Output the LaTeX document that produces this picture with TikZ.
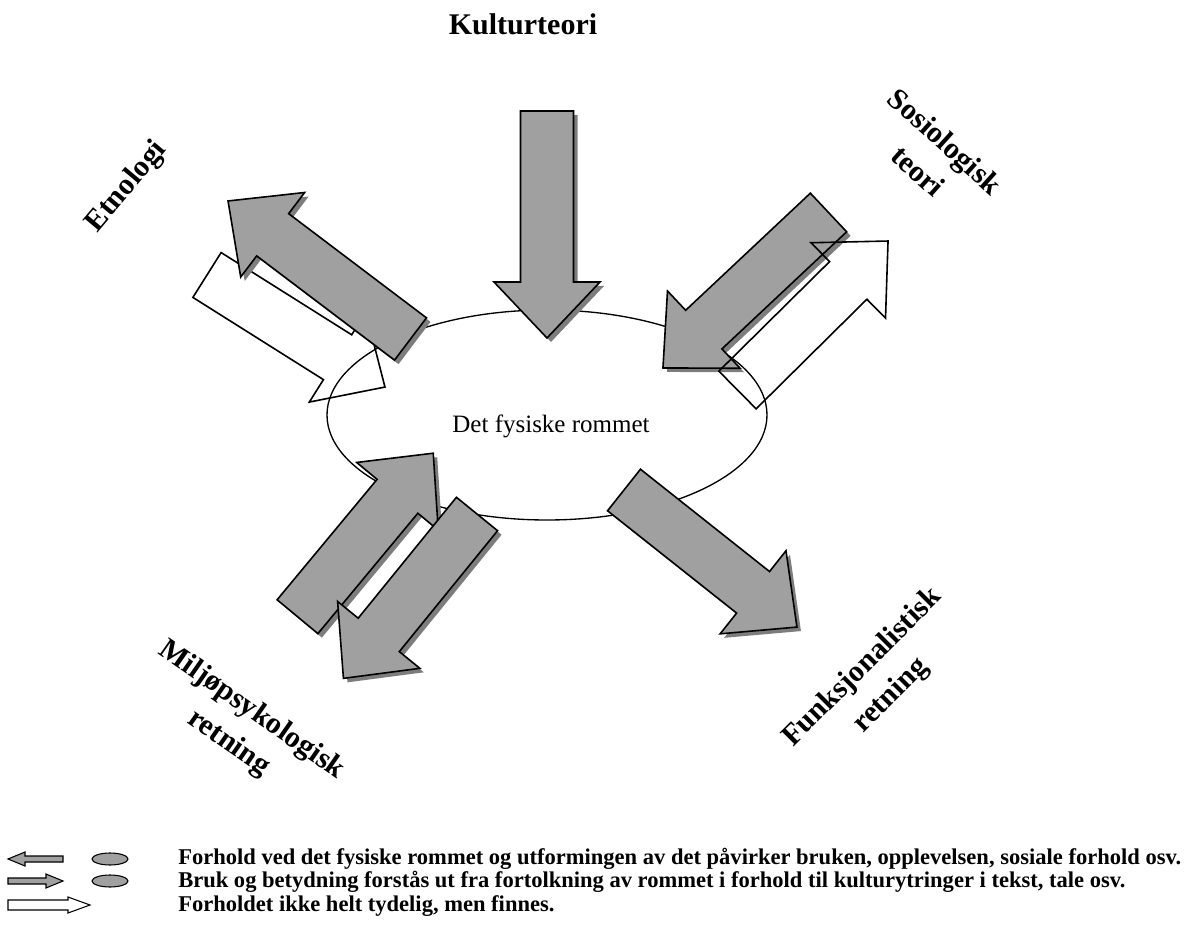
\documentclass[tikz,border=0pt]{standalone}
\usepackage{fontspec}
\setmainfont{Liberation Serif}

\definecolor{arrgray}{RGB}{160,160,160}
\definecolor{shadegray}{RGB}{125,125,125}

\tikzset{
  grayarrow/.style={draw, line width=1.2pt, fill=arrgray},
  arrshade/.style={fill=shadegray},
  whitearrow/.style={draw, line width=1.2pt},
  lbl/.style={font=\fontsize{22.5}{30}\selectfont\bfseries, align=center, inner sep=0.75pt},
  legtxt/.style={font=\fontsize{16.9}{19}\selectfont\bfseries, anchor=base west, inner sep=0pt}
}

\begin{document}
\begin{tikzpicture}[x=0.75pt,y=0.75pt,yscale=-1,xscale=1]
\useasboundingbox (0,0) rectangle (1196,930);

%Shape: Ellipse
\draw [line width=1pt] (327,415) .. controls (327,357) and (425.5,310) .. (547,310) .. controls (668.5,310) and (767,357) .. (767,415) .. controls (767,473) and (668.5,520) .. (547,520) .. controls (425.5,520) and (327,473) .. (327,415) -- cycle ;

%Shape: Right Arrow (white, Etnologi)
\draw [whitearrow, shift={(207,275)}, rotate=32.2] (0,-26.5) -- (154.3,-26.5) -- (154.3,-53) -- (210.3,0) -- (154.3,53) -- (154.3,26.5) -- (0,26.5) -- cycle ;
%Shape: Right Arrow (gray, Etnologi)
\fill [arrshade, shift={(414.5,343)}, rotate=217.1] (0,-26.5) -- (172.8,-26.5) -- (172.8,-53) -- (228.8,0) -- (172.8,53) -- (172.8,26.5) -- (0,26.5) -- cycle ;
\draw [grayarrow, shift={(410.5,339)}, rotate=217.1] (0,-26.5) -- (172.8,-26.5) -- (172.8,-53) -- (228.8,0) -- (172.8,53) -- (172.8,26.5) -- (0,26.5) -- cycle ;

%Shape: Right Arrow (gray, Sosiologisk teori)
\fill [arrshade, shift={(832.5,216.5)}, rotate=136.8] (0,-26.5) -- (171.1,-26.5) -- (171.1,-53) -- (227.1,0) -- (171.1,53) -- (171.1,26.5) -- (0,26.5) -- cycle ;
\draw [grayarrow, shift={(828.5,212.5)}, rotate=136.8] (0,-26.5) -- (171.1,-26.5) -- (171.1,-53) -- (227.1,0) -- (171.1,53) -- (171.1,26.5) -- (0,26.5) -- cycle ;
%Shape: Right Arrow (white, Sosiologisk teori)
\draw [whitearrow, shift={(737.5,390)}, rotate=-44.7] (0,-26.5) -- (155.8,-26.5) -- (155.8,-53) -- (211.8,0) -- (155.8,53) -- (155.8,26.5) -- (0,26.5) -- cycle ;

%Shape: Down Arrow (Kulturteori)
\fill [arrshade, shift={(551,115)}, rotate=90] (0,-26.5) -- (171,-26.5) -- (171,-53) -- (227,0) -- (171,53) -- (171,26.5) -- (0,26.5) -- cycle ;
\draw [grayarrow, shift={(547,111)}, rotate=90] (0,-26.5) -- (171,-26.5) -- (171,-53) -- (227,0) -- (171,53) -- (171,26.5) -- (0,26.5) -- cycle ;

%Shape: Right Arrow (Funksjonalistisk retning)
\fill [arrshade, shift={(628,494)}, rotate=38.4] (0,-26.5) -- (164.7,-26.5) -- (164.7,-53) -- (220.7,0) -- (164.7,53) -- (164.7,26.5) -- (0,26.5) -- cycle ;
\draw [grayarrow, shift={(624,490)}, rotate=38.4] (0,-26.5) -- (164.7,-26.5) -- (164.7,-53) -- (220.7,0) -- (164.7,53) -- (164.7,26.5) -- (0,26.5) -- cycle ;

%Shape: Right Arrow (Miljopsykologisk, up)
\fill [arrshade, shift={(301.5,620.7)}, rotate=-50.3] (0,-26.5) -- (156.5,-26.5) -- (156.5,-53) -- (212.5,0) -- (156.5,53) -- (156.5,26.5) -- (0,26.5) -- cycle ;
\draw [grayarrow, shift={(297.5,616.7)}, rotate=-50.3] (0,-26.5) -- (156.5,-26.5) -- (156.5,-53) -- (212.5,0) -- (156.5,53) -- (156.5,26.5) -- (0,26.5) -- cycle ;
%Shape: Right Arrow (Miljopsykologisk, down)
\fill [arrshade, shift={(481,518)}, rotate=129.1] (0,-26.5) -- (155.8,-26.5) -- (155.8,-53) -- (211.8,0) -- (155.8,53) -- (155.8,26.5) -- (0,26.5) -- cycle ;
\draw [grayarrow, shift={(477,514)}, rotate=129.1] (0,-26.5) -- (155.8,-26.5) -- (155.8,-53) -- (211.8,0) -- (155.8,53) -- (155.8,26.5) -- (0,26.5) -- cycle ;

% Text Node
\node [lbl, anchor=base] (title) at (523,35) {Kulturteori};
% Text Node
\node [lbl, rotate=50] (etno) at (127,187) {Etnologi};
% Text Node
\node [lbl, rotate=-42] (sosio) at (932,156) {Sosiologisk\\teori};
% Text Node
\node [lbl, rotate=-35] (miljo) at (240,727) {Miljøpsykologisk\\retning};
% Text Node
\node [lbl, rotate=45] (funks) at (877,682) {Funksjonalistisk\\retning};
% Text Node
\node [font=\fontsize{18.75}{22}\selectfont, anchor=base, inner sep=0pt] (rom) at (551,433) {Det fysiske rommet};

%Legend
\draw [fill=arrgray, line width=0.8pt] (8,859) -- (25,852) -- (25,856) -- (63,856) -- (63,862) -- (25,862) -- (25,866) -- cycle ;
\draw [fill=arrgray, line width=0.8pt] (92,859) .. controls (92,855.7) and (100.1,853) .. (110,853) .. controls (119.9,853) and (128,855.7) .. (128,859) .. controls (128,862.3) and (119.9,865) .. (110,865) .. controls (100.1,865) and (92,862.3) .. (92,859) -- cycle ;
\draw [fill=arrgray, line width=0.8pt] (8,878) -- (46,878) -- (46,874) -- (63,881) -- (46,888) -- (46,884) -- (8,884) -- cycle ;
\draw [fill=arrgray, line width=0.8pt] (92,881) .. controls (92,877.7) and (100.1,875) .. (110,875) .. controls (119.9,875) and (128,877.7) .. (128,881) .. controls (128,884.3) and (119.9,887) .. (110,887) .. controls (100.1,887) and (92,884.3) .. (92,881) -- cycle ;
\draw [line width=0.8pt] (8,900) -- (68,900) -- (68,897) -- (90,905) -- (68,913) -- (68,910) -- (8,910) -- cycle ;

% Text Node
\node [legtxt] (leg1) at (178,864) {Forhold ved det fysiske rommet og utformingen av det påvirker bruken, opplevelsen, sosiale forhold osv.};
% Text Node
\node [legtxt] (leg2) at (178,887) {Bruk og betydning forstås ut fra fortolkning av rommet i forhold til kulturytringer i tekst, tale osv.};
% Text Node
\node [legtxt] (leg3) at (178,911) {Forholdet ikke helt tydelig, men finnes.};

\end{tikzpicture}
\end{document}
